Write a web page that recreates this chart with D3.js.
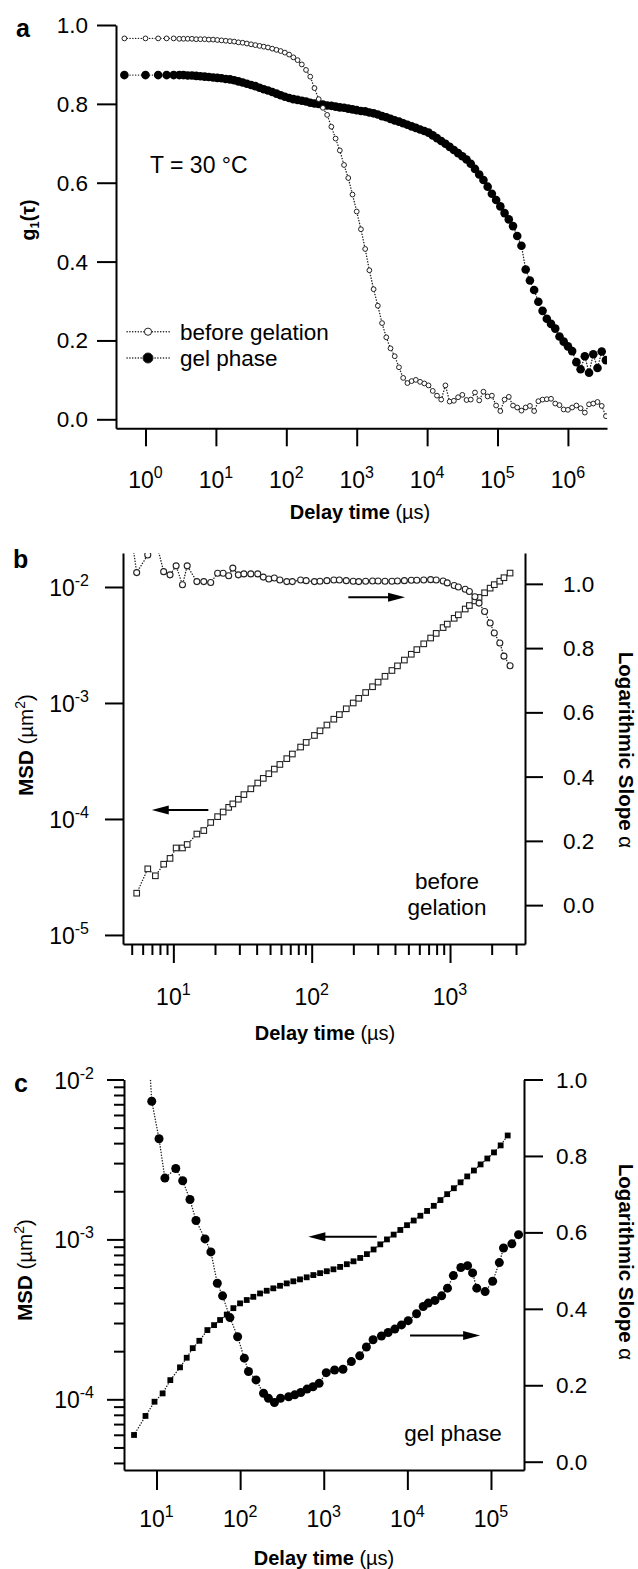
<!DOCTYPE html>
<html>
<head>
<meta charset="utf-8">
<script src="https://cdn.jsdelivr.net/npm/d3@7"></script>
<style>
  body { margin: 0; background: #fff; }
  svg { display: block; font-family: "Liberation Sans", Arial, Helvetica, sans-serif; }
</style>
</head>
<body>
<svg id="fig" width="638" height="1569"></svg>
<script>
// ── panel a: field correlation function g1(tau), log10 of delay time in µs
const logTauA = [
  -0.3, 0, 0.18, 0.3, 0.4, 0.48, 0.54, 0.6, 0.66, 0.72,
  0.78, 0.84, 0.9, 0.96, 1.02, 1.08, 1.14, 1.2, 1.26, 1.32,
  1.38, 1.44, 1.5, 1.56, 1.62, 1.68, 1.74, 1.8, 1.86, 1.92,
  1.98, 2.04, 2.1, 2.16, 2.22, 2.28, 2.34, 2.4, 2.46, 2.52,
  2.58, 2.64, 2.7, 2.76, 2.82, 2.88, 2.94, 3.0, 3.06, 3.12,
  3.18, 3.24, 3.3, 3.36, 3.42, 3.48, 3.54, 3.6, 3.66, 3.72,
  3.78, 3.84, 3.9, 3.96, 4.02, 4.08, 4.14, 4.2, 4.26, 4.32,
  4.38, 4.44, 4.5, 4.56, 4.62, 4.68, 4.74, 4.8, 4.86, 4.92,
  4.98, 5.04, 5.1, 5.16, 5.22, 5.28, 5.34, 5.4, 5.46, 5.52,
  5.58, 5.64, 5.7, 5.76, 5.82, 5.88, 5.94, 6.0, 6.06, 6.12,
  6.18, 6.24, 6.3, 6.36, 6.42, 6.48, 6.54
];
const g1Before = [
  .966, .966, .966, .966, .966, .965, .965, .965, .965, .964,
  .964, .964, .963, .963, .962, .961, .960, .959, .958, .956,
  .955, .953, .951, .949, .947, .945, .943, .940, .937, .934,
  .930, .925, .918, .911, .900, .886, .869, .840, .812, .790,
  .772, .742, .712, .682, .645, .612, .570, .527, .482, .432,
  .378, .330, .288, .244, .208, .180, .160, .132, .105, .092,
  .097, .100, .095, .091, .086, .072, .060, .050, .086, .045,
  .047, .056, .062, .049, .050, .068, .048, .070, .058, .060,
  .035, .021, .050, .057, .035, .030, .022, .030, .034, .021,
  .046, .050, .051, .052, .040, .036, .025, .024, .030, .035,
  .028, .017, .038, .040, .044, .034, .008
];
const g1Gel = [
  .873, .873, .873, .873, .873, .873, .873, .872, .872, .871,
  .870, .869, .868, .867, .866, .865, .863, .862, .860, .857,
  .854, .851, .848, .845, .841, .837, .834, .830, .826, .822,
  .818, .815, .812, .810, .808, .806, .803, .801, .800, .798,
  .796, .795, .793, .791, .790, .788, .786, .784, .782, .781,
  .778, .776, .773, .769, .766, .762, .758, .755, .751, .747,
  .743, .739, .735, .731, .727, .720, .713, .706, .699, .691,
  .683, .675, .667, .659, .648, .635, .621, .607, .590, .572,
  .556, .540, .523, .507, .490, .465, .440, .380, .352, .328,
  .298, .275, .255, .242, .230, .210, .197, .185, .173, .145,
  .127, .160, .118, .165, .130, .172, .150
];
const yTicksA = [0, 0.2, 0.4, 0.6, 0.8, 1.0];
const xDecadesA = [0, 1, 2, 3, 4, 5, 6];

// ── panel b: before gelation, log10 delay time (µs), log10 MSD (µm²), slope alpha
const logTauB = [
  0.68, 0.735, 0.815, 0.87, 0.93, 0.976, 1.02, 1.066, 1.10, 1.17,
  1.22, 1.27, 1.32, 1.36, 1.40, 1.43, 1.47, 1.51, 1.56, 1.61,
  1.65, 1.69, 1.73, 1.77, 1.82, 1.86, 1.92, 1.96, 2.02, 2.06,
  2.11, 2.16, 2.20, 2.25, 2.30, 2.34, 2.39, 2.44, 2.48, 2.53,
  2.58, 2.62, 2.67, 2.72, 2.76, 2.81, 2.86, 2.90, 2.95, 2.98,
  3.03, 3.06, 3.11, 3.14, 3.18, 3.21, 3.25, 3.29, 3.32, 3.36,
  3.39, 3.434
];
const logMsdB = [
  null, -4.64, -4.43, -4.49, -4.39, -4.34, -4.25, -4.25, -4.22, -4.13,
  -4.10, -4.03, -3.98, -3.94, -3.90, -3.87, -3.83, -3.79, -3.74, -3.69,
  -3.65, -3.61, -3.57, -3.53, -3.48, -3.44, -3.38, -3.34, -3.28, -3.24,
  -3.19, -3.14, -3.10, -3.05, -3.00, -2.96, -2.91, -2.86, -2.82, -2.77,
  -2.72, -2.68, -2.63, -2.58, -2.54, -2.49, -2.44, -2.40, -2.35, -2.32,
  -2.27, -2.24, -2.19, -2.16, -2.12, -2.09, -2.05, -2.01, -1.98, -1.95,
  -1.92, -1.88
];
const alphaB = [
  1.20, 1.035, 1.09, 1.14, 1.038, 1.028, 1.056, 0.997, 1.056, 1.007,
  1.007, 1.004, 1.033, 1.033, 1.025, 1.049, 1.028, 1.031, 1.031, 1.031,
  1.021, 1.015, 1.018, 1.012, 1.007, 1.007, 1.012, 1.010, 1.007, 1.008,
  1.010, 1.012, 1.012, 1.010, 1.008, 1.007, 1.008, 1.009, 1.009, 1.008,
  1.008, 1.009, 1.010, 1.011, 1.011, 1.012, 1.013, 1.012, 1.009, 1.003,
  0.995, 0.990, 0.983, 0.976, 0.960, 0.940, 0.914, 0.878, 0.847, 0.816,
  0.775, 0.745
];
const yDecadesB = [-5, -4, -3, -2];
const xDecadesB = [1, 2, 3];
const alphaTicks = [0, 0.2, 0.4, 0.6, 0.8, 1.0];

// ── panel c: gel phase
const logTauCmsd = [
  0.731, 0.868, 0.976, 1.073, 1.165, 1.281, 1.361, 1.433, 1.512, 1.608,
  1.688, 1.76, 1.84, 1.919, 1.999, 2.079, 2.158, 2.238, 2.318, 2.397,
  2.477, 2.557, 2.636, 2.716, 2.796, 2.876, 2.956, 3.036, 3.116, 3.196,
  3.276, 3.356, 3.436, 3.516, 3.596, 3.676, 3.756, 3.836, 3.916, 3.996,
  4.076, 4.156, 4.236, 4.316, 4.396, 4.476, 4.556, 4.636, 4.716, 4.796,
  4.876, 4.956, 5.036, 5.116, 5.2
];
const logMsdC = [
  -4.223, -4.104, -4.015, -3.963, -3.88, -3.80, -3.74, -3.68, -3.634, -3.567,
  -3.536, -3.504, -3.47, -3.43, -3.40, -3.379, -3.359, -3.338, -3.321, -3.306,
  -3.29, -3.275, -3.262, -3.25, -3.237, -3.223, -3.211, -3.199, -3.187, -3.172,
  -3.155, -3.137, -3.116, -3.092, -3.063, -3.031, -3.000, -2.970, -2.941, -2.911,
  -2.882, -2.852, -2.822, -2.790, -2.754, -2.717, -2.680, -2.643, -2.606, -2.569,
  -2.531, -2.494, -2.456, -2.412, -2.35
];
const logTauCalpha = [
  0.90, 0.943, 1.03, 1.10, 1.23, 1.313, 1.40, 1.472, 1.58, 1.65,
  1.727, 1.79, 1.878, 1.97, 2.05, 2.10, 2.19, 2.28, 2.338, 2.41,
  2.483, 2.58, 2.653, 2.726, 2.8, 2.872, 2.945, 3.03, 3.13, 3.23,
  3.33, 3.43, 3.51, 3.59, 3.69, 3.77, 3.85, 3.93, 4.01, 4.11,
  4.19, 4.25, 4.33, 4.41, 4.48, 4.55, 4.64, 4.72, 4.78, 4.83,
  4.93, 5.02, 5.10, 5.15, 5.25, 5.33
];
const alphaC = [
  1.10, 0.943, 0.845, 0.742, 0.767, 0.735, 0.686, 0.631, 0.583, 0.549,
  0.467, 0.434, 0.377, 0.327, 0.271, 0.236, 0.214, 0.179, 0.166, 0.155,
  0.166, 0.170, 0.175, 0.181, 0.190, 0.196, 0.205, 0.233, 0.240, 0.242,
  0.262, 0.277, 0.300, 0.319, 0.329, 0.338, 0.347, 0.358, 0.369, 0.387,
  0.406, 0.415, 0.422, 0.434, 0.454, 0.487, 0.508, 0.513, 0.494, 0.454,
  0.445, 0.472, 0.521, 0.559, 0.570, 0.594
];
const yDecadesC = [-4, -3, -2];
const xDecadesC = [1, 2, 3, 4, 5];

// ────────────────────────────────────────────────────────────────────────
const svg = d3.select("#fig");
const INK = "#000";
const pow = v => Math.pow(10, v);

// small helpers
function styleAxis(sel) {
  sel.selectAll("path, line").attr("stroke", INK).attr("stroke-width", 2);
  sel.selectAll("text").remove();
  return sel;
}
function powLabel(x, y, exp, anchor) {
  const t = svg.append("text").attr("x", x).attr("y", y)
    .attr("text-anchor", anchor).attr("font-size", 23).attr("fill", INK);
  t.append("tspan").text("10");
  t.append("tspan").attr("dy", -10).attr("font-size", 16).text(exp);
}
function clipRect(id, x, y) {
  svg.append("clipPath").attr("id", id).append("rect")
    .attr("x", x.range()[0]).attr("y", y.range()[1])
    .attr("width", x.range()[1] - x.range()[0])
    .attr("height", y.range()[0] - y.range()[1]);
}
function dotted(g, pts, x, y) {
  g.append("path").datum(pts)
    .attr("fill", "none").attr("stroke", "#222").attr("stroke-width", 1.4)
    .attr("stroke-linecap", "round").attr("stroke-dasharray", "0.2 2.6")
    .attr("d", d3.line().defined(d => d[1] != null).x(d => x(d[0])).y(d => y(d[1])));
}
function arrow(x1, y1, x2, y2) {
  // tail (x1,y1) -> tip (x2,y2), horizontal
  const dir = Math.sign(x2 - x1);
  svg.append("line").attr("x1", x1).attr("y1", y1).attr("x2", x2 - dir * 12).attr("y2", y2)
    .attr("stroke", INK).attr("stroke-width", 2);
  svg.append("path").attr("fill", INK)
    .attr("d", `M${x2},${y2} L${x2 - dir * 17},${y2 - 4.5} L${x2 - dir * 17},${y2 + 4.5} Z`);
}
function xTitle(cx, y) {
  const t = svg.append("text").attr("x", cx).attr("y", y).attr("text-anchor", "middle")
    .attr("font-size", 20).attr("fill", INK);
  t.append("tspan").attr("font-weight", "bold").text("Delay time");
  t.append("tspan").text(" (\u00b5s)");
}
function msdTitle(x, cy) {
  const t = svg.append("text").attr("transform", `translate(${x},${cy}) rotate(-90)`)
    .attr("text-anchor", "middle").attr("font-size", 20.5).attr("fill", INK);
  t.append("tspan").attr("font-weight", "bold").text("MSD");
  t.append("tspan").text(" (\u00b5m");
  t.append("tspan").attr("dy", -8).attr("font-size", 14).text("2");
  t.append("tspan").attr("dy", 8).text(")");
}
function slopeTitle(x, cy) {
  const t = svg.append("text").attr("transform", `translate(${x},${cy}) rotate(90)`)
    .attr("text-anchor", "middle").attr("font-size", 20.5).attr("fill", INK);
  t.append("tspan").attr("font-weight", "bold").text("Logarithmic Slope ");
  t.append("tspan").text("\u03b1");
}
function panelLetter(x, y, s) {
  svg.append("text").attr("x", x).attr("y", y).attr("font-size", 25)
    .attr("font-weight", "bold").attr("fill", INK).text(s);
}

// ────────────────────────────────────────────────────────────────────────
// Panel a
// ────────────────────────────────────────────────────────────────────────
const xA = d3.scaleLog().domain([pow(-0.419), pow(6.555)]).range([116, 607]);
const yA = d3.scaleLinear().domain([-0.0228, 1.0]).range([428.3, 25]);

styleAxis(svg.append("g").attr("transform", `translate(${xA.range()[0]},0)`)
  .call(d3.axisLeft(yA).tickValues(yTicksA).tickSize(19).tickSizeOuter(0).tickFormat("")));
styleAxis(svg.append("g").attr("transform", `translate(0,${yA.range()[0]})`)
  .call(d3.axisBottom(xA).tickValues(xDecadesA.map(pow)).tickSize(18).tickSizeOuter(0).tickFormat("")));

yTicksA.forEach(v => svg.append("text").attr("x", 88).attr("y", yA(v) + 8)
  .attr("text-anchor", "end").attr("font-size", 22.5).attr("fill", INK).text(v.toFixed(1)));
xDecadesA.forEach(e => powLabel(xA(pow(e)), 488, String(e), "middle"));

clipRect("clipA", xA, yA);
const plotA = svg.append("g").attr("clip-path", "url(#clipA)");
const ptsGel = logTauA.map((t, i) => [pow(t), g1Gel[i]]);
const ptsBefore = logTauA.map((t, i) => [pow(t), g1Before[i]]);
dotted(plotA, ptsGel, xA, yA);
dotted(plotA, ptsBefore, xA, yA);
plotA.append("g").selectAll("circle").data(ptsGel).join("circle")
  .attr("cx", d => xA(d[0])).attr("cy", d => yA(d[1])).attr("r", 4.3).attr("fill", "#000");
plotA.append("g").selectAll("circle").data(ptsBefore).join("circle")
  .attr("cx", d => xA(d[0])).attr("cy", d => yA(d[1])).attr("r", 2.4)
  .attr("fill", "#fff").attr("stroke", "#222").attr("stroke-width", 1);

// legend
[["before gelation", false, 331.7], ["gel phase", true, 358]].forEach(([label, filled, ly]) => {
  svg.append("line").attr("x1", 127).attr("x2", 170).attr("y1", ly).attr("y2", ly)
    .attr("stroke", "#222").attr("stroke-width", 1.4).attr("stroke-linecap", "round")
    .attr("stroke-dasharray", "0.2 2.6");
  svg.append("circle").attr("cx", 148).attr("cy", ly).attr("r", filled ? 5 : 3.6)
    .attr("fill", filled ? "#000" : "#fff").attr("stroke", "#222").attr("stroke-width", 1);
  svg.append("text").attr("x", 180).attr("y", ly + 8).attr("font-size", 22.5).attr("fill", INK).text(label);
});
svg.append("text").attr("x", 150).attr("y", 173).attr("font-size", 23).attr("fill", INK).text("T = 30 \u00b0C");

const g1Title = svg.append("text").attr("transform", "translate(35,220) rotate(-90)")
  .attr("text-anchor", "middle").attr("font-size", 19.5).attr("font-weight", "bold").attr("fill", INK);
g1Title.append("tspan").text("g");
g1Title.append("tspan").attr("dy", 4).attr("font-size", 13).text("1");
g1Title.append("tspan").attr("dy", -4).text("(\u03c4)");
xTitle(360, 519);
panelLetter(16, 37, "a");

// ────────────────────────────────────────────────────────────────────────
// Panel b
// ────────────────────────────────────────────────────────────────────────
const xB = d3.scaleLog().domain([pow(0.636), pow(3.542)]).range([123, 525]);
const yB = d3.scaleLog().domain([pow(-5.078), pow(-1.707)]).range([944, 553]);
const aB = d3.scaleLinear().domain([-0.121, 1.096]).range([944, 553]);

styleAxis(svg.append("g").attr("transform", `translate(${xB.range()[0]},0)`)
  .call(d3.axisLeft(yB).tickValues(yDecadesB.map(pow)).tickSize(18).tickSizeOuter(0).tickFormat("")));
styleAxis(svg.append("g").attr("transform", `translate(${xB.range()[1]},0)`)
  .call(d3.axisRight(aB).tickValues(alphaTicks).tickSize(18).tickSizeOuter(0).tickFormat("")));
styleAxis(svg.append("g").attr("transform", `translate(0,${yB.range()[0]})`)
  .call(d3.axisBottom(xB).tickValues(xDecadesB.map(pow)).tickSize(19).tickSizeOuter(0).tickFormat("")));
const minorB = xB.ticks().filter(v => Math.abs(Math.log10(v) % 1) > 1e-6);
styleAxis(svg.append("g").attr("transform", `translate(0,${yB.range()[0]})`)
  .call(d3.axisBottom(xB).tickValues(minorB).tickSize(11).tickSizeOuter(0).tickFormat("")))
  .select(".domain").remove();

yDecadesB.forEach(e => powLabel(89, yB(pow(e)) + 9, String(e), "end"));
alphaTicks.forEach(v => svg.append("text").attr("x", 563).attr("y", aB(v) + 8)
  .attr("font-size", 22.5).attr("fill", INK).text(v.toFixed(1)));
xDecadesB.forEach(e => powLabel(xB(pow(e)), 1005, String(e), "middle"));

clipRect("clipB", xB, yB);
const plotB = svg.append("g").attr("clip-path", "url(#clipB)");
const ptsMsdB = logTauB.map((t, i) => [pow(t), logMsdB[i] == null ? null : pow(logMsdB[i])]);
const ptsAlphaB = logTauB.map((t, i) => [pow(t), alphaB[i]]);
dotted(plotB, ptsMsdB, xB, yB);
dotted(plotB, ptsAlphaB, xB, aB);
plotB.append("g").selectAll("rect").data(ptsMsdB.filter(d => d[1] != null)).join("rect")
  .attr("x", d => xB(d[0]) - 2.8).attr("y", d => yB(d[1]) - 2.8)
  .attr("width", 5.6).attr("height", 5.6)
  .attr("fill", "#fff").attr("stroke", "#222").attr("stroke-width", 1.1);
plotB.append("g").selectAll("circle").data(ptsAlphaB).join("circle")
  .attr("cx", d => xB(d[0])).attr("cy", d => aB(d[1])).attr("r", 3)
  .attr("fill", "#fff").attr("stroke", "#222").attr("stroke-width", 1.1);

arrow(xB(pow(2.265)), aB(0.958), xB(pow(2.675)), aB(0.958));
arrow(xB(pow(1.253)), yB(pow(-3.922)), xB(pow(0.844)), yB(pow(-3.922)));

svg.append("text").attr("x", 447).attr("y", 889).attr("text-anchor", "middle")
  .attr("font-size", 22.5).attr("fill", INK).text("before");
svg.append("text").attr("x", 447).attr("y", 915).attr("text-anchor", "middle")
  .attr("font-size", 22.5).attr("fill", INK).text("gelation");

msdTitle(33, 745);
slopeTitle(619, 750);
xTitle(325, 1040);
panelLetter(13, 568, "b");

// ────────────────────────────────────────────────────────────────────────
// Panel c
// ────────────────────────────────────────────────────────────────────────
const xC = d3.scaleLog().domain([pow(0.611), pow(5.395)]).range([124, 524]);
const yC = d3.scaleLog().domain([pow(-4.442), pow(-2)]).range([1470, 1079.5]);
const aC = d3.scaleLinear().domain([-0.0217, 1.0]).range([1470, 1079.5]);

styleAxis(svg.append("g").attr("transform", `translate(${xC.range()[0]},0)`)
  .call(d3.axisLeft(yC).tickValues(yDecadesC.map(pow)).tickSize(17).tickSizeOuter(0).tickFormat("")));
const minorC = yC.ticks().filter(v => Math.abs(Math.log10(v) % 1) > 1e-6);
styleAxis(svg.append("g").attr("transform", `translate(${xC.range()[0]},0)`)
  .call(d3.axisLeft(yC).tickValues(minorC).tickSize(10).tickSizeOuter(0).tickFormat("")))
  .select(".domain").remove();
styleAxis(svg.append("g").attr("transform", `translate(${xC.range()[1]},0)`)
  .call(d3.axisRight(aC).tickValues(alphaTicks).tickSize(19).tickSizeOuter(0).tickFormat("")));
styleAxis(svg.append("g").attr("transform", `translate(0,${yC.range()[0]})`)
  .call(d3.axisBottom(xC).tickValues(xDecadesC.map(pow)).tickSize(20).tickSizeOuter(0).tickFormat("")));

yDecadesC.forEach(e => powLabel(94, yC(pow(e)) + 9, String(e), "end"));
alphaTicks.forEach(v => svg.append("text").attr("x", 556).attr("y", aC(v) + 8)
  .attr("font-size", 22.5).attr("fill", INK).text(v.toFixed(1)));
xDecadesC.forEach(e => powLabel(xC(pow(e)), 1527, String(e), "middle"));

clipRect("clipC", xC, yC);
const plotC = svg.append("g").attr("clip-path", "url(#clipC)");
const ptsMsdC = logTauCmsd.map((t, i) => [pow(t), pow(logMsdC[i])]);
const ptsAlphaC = logTauCalpha.map((t, i) => [pow(t), alphaC[i]]);
dotted(plotC, ptsMsdC, xC, yC);
dotted(plotC, ptsAlphaC, xC, aC);
plotC.append("g").selectAll("rect").data(ptsMsdC).join("rect")
  .attr("x", d => xC(d[0]) - 2.9).attr("y", d => yC(d[1]) - 2.9)
  .attr("width", 5.8).attr("height", 5.8).attr("fill", "#000");
plotC.append("g").selectAll("circle").data(ptsAlphaC).join("circle")
  .attr("cx", d => xC(d[0])).attr("cy", d => aC(d[1])).attr("r", 4.5).attr("fill", "#000");

arrow(xC(pow(3.634)), yC(pow(-2.984)), xC(pow(2.816)), yC(pow(-2.984)));
arrow(xC(pow(4.032)), aC(0.33), xC(pow(4.87)), aC(0.33));

svg.append("text").attr("x", 453).attr("y", 1441).attr("text-anchor", "middle")
  .attr("font-size", 22.5).attr("fill", INK).text("gel phase");

msdTitle(32, 1270);
slopeTitle(619, 1262);
xTitle(324, 1565);
panelLetter(14, 1092, "c");
</script>
</body>
</html>
